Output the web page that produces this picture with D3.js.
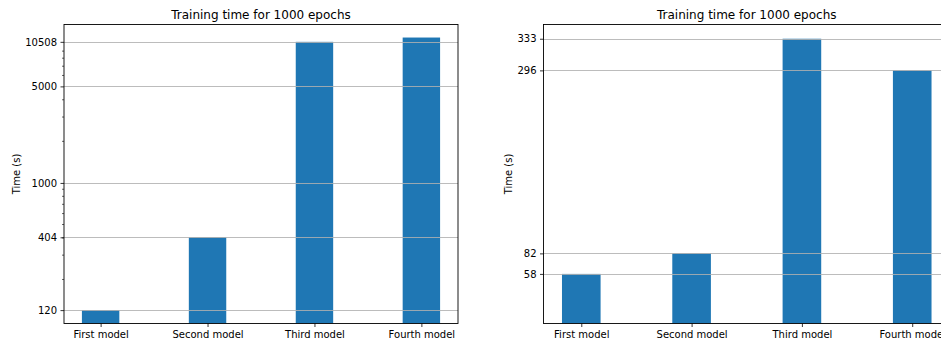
<!DOCTYPE html>
<html>
<head>
<meta charset="utf-8">
<script src="https://cdn.jsdelivr.net/npm/d3@7"></script>
<style>
  html, body { margin: 0; padding: 0; background: #fff; }
  svg { display: block; font-family: "DejaVu Sans", sans-serif; }
</style>
</head>
<body>
<svg id="chart" width="941" height="343"></svg>
<script>
// Model names along the x axis
const categories = ["First model", "Second model", "Third model", "Fourth model"];

// Left panel: training time in seconds (log axis)
const timesLog = [120, 404, 10508, 11290];
const ticksLog = [120, 404, 1000, 5000, 10508];
const minorLog = [200, 300, 400, 500, 600, 700, 800, 900,
                  2000, 3000, 4000, 6000, 7000, 8000, 9000];

// Right panel: training time in seconds (linear axis)
const timesLin = [58, 82, 333, 296];
const ticksLin = [58, 82, 296, 333];

const titleText = "Training time for 1000 epochs";
const yLabel = "Time (s)";

const svg = d3.select("#chart");
const barColor = "#1f77b4";
const barWidth = 0.35;

function drawPanel(opts) {
  const { left, right, top, bottom, yScale, values, ticks, minor } = opts;
  const g = svg.append("g");

  // bars sit at integer positions, with matplotlib-style margins
  const x = d3.scaleLinear().domain([-0.3425, 3.3425]).range([left, right]);
  const y = yScale.range([bottom, top]);

  const clipId = "clip" + Math.round(left);
  svg.append("clipPath").attr("id", clipId)
    .append("rect").attr("x", left).attr("y", top)
    .attr("width", right - left).attr("height", bottom - top);

  const plot = g.append("g").attr("clip-path", `url(#${clipId})`);

  plot.selectAll("rect.bar").data(values).join("rect")
    .attr("class", "bar")
    .attr("x", (d, i) => x(i - barWidth / 2))
    .attr("width", (d, i) => x(i + barWidth / 2) - x(i - barWidth / 2))
    .attr("y", d => y(d))
    .attr("height", d => bottom - y(d))
    .attr("fill", barColor);

  // horizontal grid at the major ticks, drawn over the bars
  plot.selectAll("line.grid").data(ticks).join("line")
    .attr("class", "grid")
    .attr("x1", left).attr("x2", right)
    .attr("y1", d => Math.round(y(d)) + 0.5)
    .attr("y2", d => Math.round(y(d)) + 0.5)
    .attr("stroke", "#b0b0b0")
    .attr("stroke-opacity", 0.85)
    .attr("stroke-width", 1);

  // y axis
  const yAxis = d3.axisLeft(y)
    .tickValues(ticks)
    .tickFormat(d => String(d))
    .tickSize(3.5)
    .tickPadding(3.5)
    .tickSizeOuter(0);
  const ya = g.append("g").attr("transform", `translate(${left},0)`).call(yAxis);
  ya.select(".domain").remove();
  ya.selectAll("text").attr("font-size", 10).attr("fill", "#000")
    .attr("font-family", "DejaVu Sans, sans-serif");
  ya.selectAll("line").attr("stroke", "#000").attr("stroke-width", 0.8);

  if (minor) {
    g.selectAll("line.minor").data(minor).join("line")
      .attr("class", "minor")
      .attr("x1", left - 2).attr("x2", left)
      .attr("y1", d => y(d)).attr("y2", d => y(d))
      .attr("stroke", "#000").attr("stroke-width", 0.6);
  }

  // x axis
  const xAxis = d3.axisBottom(x)
    .tickValues(d3.range(categories.length))
    .tickFormat(i => categories[i])
    .tickSize(3.5)
    .tickPadding(3.5)
    .tickSizeOuter(0);
  const xa = g.append("g").attr("transform", `translate(0,${bottom})`).call(xAxis);
  xa.select(".domain").remove();
  xa.selectAll("text").attr("font-size", 10).attr("fill", "#000")
    .attr("font-family", "DejaVu Sans, sans-serif");
  xa.selectAll("line").attr("stroke", "#000").attr("stroke-width", 0.8);

  // frame (all four spines)
  g.append("rect")
    .attr("x", left).attr("y", top)
    .attr("width", right - left).attr("height", bottom - top)
    .attr("fill", "none").attr("stroke", "#000").attr("stroke-width", 0.9);

  // title
  g.append("text")
    .attr("x", (left + right) / 2).attr("y", 19)
    .attr("text-anchor", "middle")
    .attr("font-size", 12)
    .attr("fill", "#000")
    .text(titleText);

  // y label
  g.append("text")
    .attr("transform", `translate(${opts.labelX},${(top + bottom) / 2}) rotate(-90)`)
    .attr("text-anchor", "middle")
    .attr("font-size", 10)
    .attr("fill", "#000")
    .text(yLabel);
}

drawPanel({
  left: 64, right: 458, top: 24.5, bottom: 323.5,
  yScale: d3.scaleLog().domain([96, 14030]),
  values: timesLog, ticks: ticksLog, minor: minorLog,
  labelX: 19.5
});

drawPanel({
  left: 543.5, right: 950, top: 24.5, bottom: 323.5,
  yScale: d3.scaleLinear().domain([0, 349.65]),
  values: timesLin, ticks: ticksLin, minor: null,
  labelX: 512
});
</script>
</body>
</html>
